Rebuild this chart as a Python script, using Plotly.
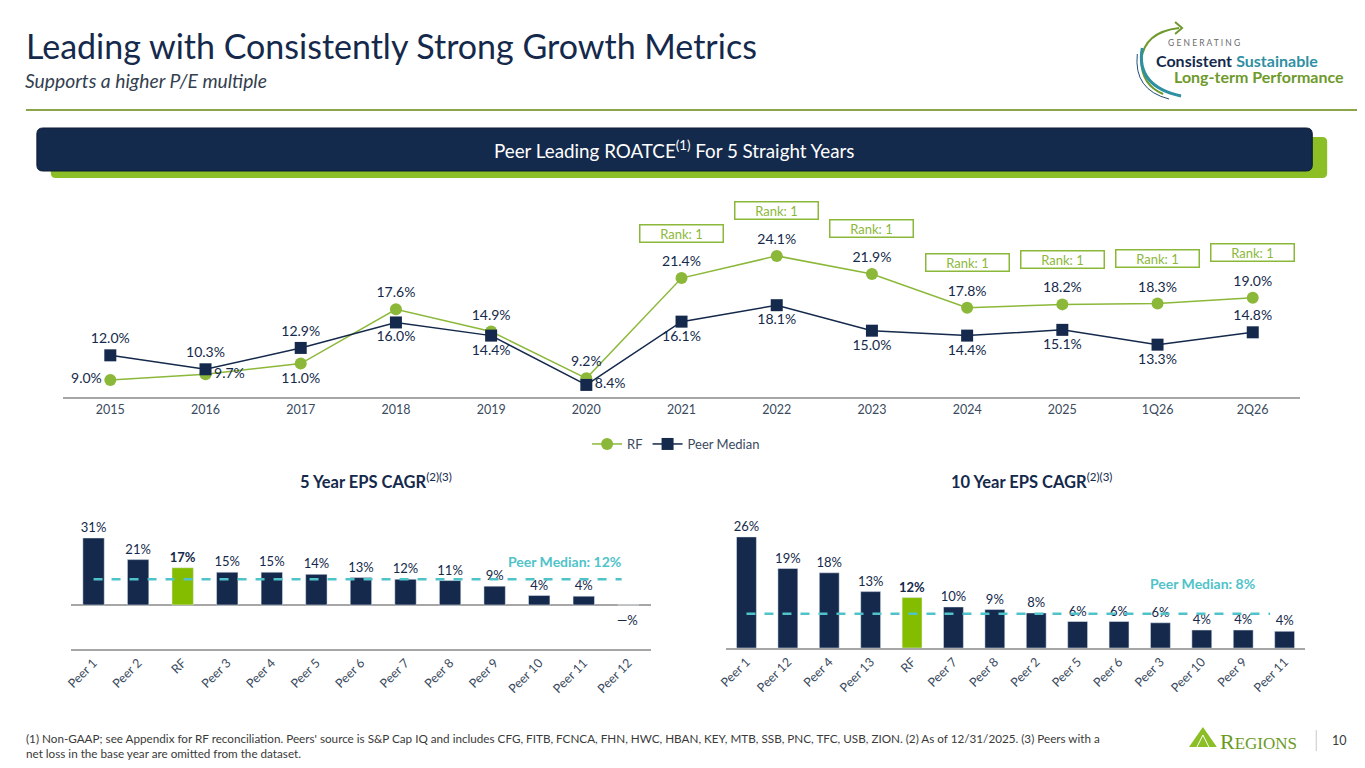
import plotly.graph_objects as go

# ---- data ----
periods = ["2015", "2016", "2017", "2018", "2019", "2020", "2021", "2022",
           "2023", "2024", "2025", "1Q26", "2Q26"]
rf_roatce = [9.0, 9.7, 11.0, 17.6, 14.9, 9.2, 21.4, 24.1, 21.9, 17.8, 18.2, 18.3, 19.0]
peer_roatce = [12.0, 10.3, 12.9, 16.0, 14.4, 8.4, 16.1, 18.1, 15.0, 14.4, 15.1, 13.3, 14.8]
rank_periods = ["2021", "2022", "2023", "2024", "2025", "1Q26", "2Q26"]
rank_labels = ["Rank: 1"] * 7

eps5_names = ["Peer 1", "Peer 2", "RF", "Peer 3", "Peer 4", "Peer 5", "Peer 6",
              "Peer 7", "Peer 8", "Peer 9", "Peer 10", "Peer 11", "Peer 12"]
eps5_vals = [31.3, 21.2, 17.4, 15.3, 15.3, 14.3, 12.8, 12.0, 11.4, 8.8, 4.4, 4.1, 0.0]
eps5_median = 12

eps10_names = ["Peer 1", "Peer 12", "Peer 4", "Peer 13", "RF", "Peer 7", "Peer 8",
               "Peer 2", "Peer 5", "Peer 6", "Peer 3", "Peer 10", "Peer 9", "Peer 11"]
eps10_vals = [26.0, 18.6, 17.6, 13.2, 11.8, 9.6, 9.0, 8.2, 6.2, 6.2, 5.9, 4.2, 4.2, 3.9]
eps10_median = 8

footnote_lines = [
    "(1) Non-GAAP; see Appendix for RF reconciliation. Peers' source is S&P Cap IQ and includes "
    "CFG, FITB, FCNCA, FHN, HWC, HBAN, KEY, MTB, SSB, PNC, TFC, USB, ZION. (2) As of 12/31/2025. "
    "(3) Peers with a",
    "net loss in the base year are omitted from the dataset.",
]

NAVY = "#14294b"
GREEN = "#8cb83a"
RFGREEN = "#84bd00"
TEAL = "#4fc3c9"
GRID = "#a6a6a6"
OFF = 8  # page margin in the browser
W, H = 1365 - 2 * OFF, 768 - 2 * OFF


def px(x):
    return (x - OFF) / W


def py(y):
    return 1 - (y - OFF) / H


def rrect(x0, y0, x1, y1, r):
    # rounded rectangle path in paper coords, given pixel box
    return (f"M {px(x0 + r)},{py(y0)} L {px(x1 - r)},{py(y0)} "
            f"Q {px(x1)},{py(y0)} {px(x1)},{py(y0 + r)} L {px(x1)},{py(y1 - r)} "
            f"Q {px(x1)},{py(y1)} {px(x1 - r)},{py(y1)} L {px(x0 + r)},{py(y1)} "
            f"Q {px(x0)},{py(y1)} {px(x0)},{py(y1 - r)} L {px(x0)},{py(y0 + r)} "
            f"Q {px(x0)},{py(y0)} {px(x0 + r)},{py(y0)} Z")


fig = go.Figure()

# line chart
rf_pos = ["middle left", "middle right", "bottom center"] + ["top center"] * 10
peer_pos = ["top center", "top center", "top center", "bottom center", "bottom center",
            "middle right"] + ["bottom center"] * 6 + ["top center"]
fig.add_trace(go.Scatter(
    x=periods, y=rf_roatce, name="RF", mode="lines+markers+text",
    line=dict(color=GREEN, width=1.5), marker=dict(symbol="circle", size=12, color=GREEN),
    text=[f"{v:.1f}%" for v in rf_roatce], textposition=rf_pos,
    textfont=dict(size=14, color=NAVY), cliponaxis=False, xaxis="x", yaxis="y"))
fig.add_trace(go.Scatter(
    x=periods, y=peer_roatce, name="Peer Median", mode="lines+markers+text",
    line=dict(color=NAVY, width=1.5), marker=dict(symbol="square", size=12, color=NAVY),
    text=[f"{v:.1f}%" for v in peer_roatce], textposition=peer_pos,
    textfont=dict(size=14, color=NAVY), cliponaxis=False, xaxis="x", yaxis="y"))

# bar charts
eps5_text = []
for n, v in zip(eps5_names, eps5_vals):
    if v == 0:
        eps5_text.append("")
    elif n == "RF":
        eps5_text.append(f"<b>{v:.0f}%</b>")
    else:
        eps5_text.append(f"{v:.0f}%")
fig.add_trace(go.Bar(
    x=eps5_names, y=eps5_vals, showlegend=False,
    marker=dict(color=[RFGREEN if n == "RF" else NAVY for n in eps5_names]),
    text=eps5_text, textposition="outside", constraintext="none",
    textfont=dict(size=13, color=NAVY),
    cliponaxis=False, width=0.48, xaxis="x2", yaxis="y2"))

eps10_text = [f"<b>{v:.0f}%</b>" if n == "RF" else f"{v:.0f}%"
              for n, v in zip(eps10_names, eps10_vals)]
fig.add_trace(go.Bar(
    x=eps10_names, y=eps10_vals, showlegend=False,
    marker=dict(color=[RFGREEN if n == "RF" else NAVY for n in eps10_names]),
    text=eps10_text, textposition="outside", constraintext="none",
    textfont=dict(size=13, color=NAVY),
    cliponaxis=False, width=0.48, xaxis="x3", yaxis="y3"))

tickf = dict(family="Lato, sans-serif", size=12.5, color="#3a4a5e")
fig.update_layout(
    width=W, height=H, margin=dict(l=0, r=0, t=0, b=0),
    paper_bgcolor="white", plot_bgcolor="white",
    font=dict(family="Lato, sans-serif", color=NAVY),
    showlegend=True,
    legend=dict(orientation="h", x=px(672), xanchor="center", y=py(444), yanchor="middle",
                font=dict(size=13, color="#3a4a5e")),
    xaxis=dict(type="category", domain=[px(55), px(1300)], anchor="y", showline=True,
               range=[-0.5, len(periods) - 0.5],
               linecolor=GRID, linewidth=1.5, ticks="", tickfont=tickf, showgrid=False),
    yaxis=dict(domain=[py(397), py(200)], range=[6.93, 30.9], visible=False),
    xaxis2=dict(type="category", domain=[px(63.6), px(646.4)], anchor="y2", showline=True,
                range=[-0.5, len(eps5_names) - 0.5],
                linecolor=GRID, linewidth=1.5, ticks="", tickangle=-45, tickfont=tickf,
                showgrid=False),
    yaxis2=dict(domain=[py(649), py(510)], range=[-20.6, 44.4], showgrid=False,
                showticklabels=False, zeroline=True, zerolinecolor=GRID, zerolinewidth=1.5),
    xaxis3=dict(type="category", domain=[px(722), px(1305)], anchor="y3", showline=True,
                range=[-0.5, len(eps10_names) - 0.5],
                linecolor=GRID, linewidth=1.5, ticks="", tickangle=-45, tickfont=tickf,
                showgrid=False),
    yaxis3=dict(domain=[py(648), py(510)], range=[0, 32.3], showgrid=False,
                showticklabels=False, zeroline=False),
)

shapes = [
    # rule under title
    dict(type="line", xref="paper", yref="paper", x0=px(18), x1=px(1362), y0=py(110), y1=py(110),
         line=dict(color="#8aa54b", width=2)),
    # banner
    dict(type="path", xref="paper", yref="paper", path=rrect(43, 137, 1327, 178, 5),
         fillcolor="#8cbf26", line=dict(width=0)),
    dict(type="path", xref="paper", yref="paper", path=rrect(29, 128, 1312, 171, 6),
         fillcolor="#142a4c", line=dict(color="#0c1b33", width=1)),
    # median lines
    dict(type="line", xref="x2", yref="y2", x0=0, x1=11.85, y0=eps5_median, y1=eps5_median,
         line=dict(color=TEAL, width=2.5, dash="dash")),
    dict(type="line", xref="x3", yref="y3", x0=0, x1=12.65, y0=eps10_median, y1=eps10_median,
         line=dict(color=TEAL, width=2.5, dash="dash")),
    # top-right logo arcs
    dict(type="path", xref="paper", yref="paper",
         path=f"M {px(1178)},{py(28)} Q {px(1143)},{py(32)} {px(1140)},{py(60)} "
              f"Q {px(1140)},{py(85)} {px(1162)},{py(94)}",
         line=dict(color="#6e9a2c", width=2)),
    dict(type="path", xref="paper", yref="paper",
         path=f"M {px(1174)},{py(22)} L {px(1181)},{py(28)} L {px(1174)},{py(34)}",
         line=dict(color="#6e9a2c", width=2)),
    dict(type="path", xref="paper", yref="paper",
         path=f"M {px(1141)},{py(48)} Q {px(1134)},{py(86)} {px(1180)},{py(96)}",
         line=dict(color="#2f8fa3", width=3)),
    dict(type="path", xref="paper", yref="paper",
         path=f"M {px(1136)},{py(54)} Q {px(1132)},{py(90)} {px(1168)},{py(99)}",
         line=dict(color="#1f4f77", width=1)),
    # Regions logo mark
    dict(type="path", xref="paper", yref="paper",
         path=f"M {px(1188)},{py(747)} L {px(1202)},{py(727)} L {px(1216)},{py(747)} Z",
         fillcolor="#8cbf26", line=dict(width=0)),
    dict(type="path", xref="paper", yref="paper",
         path=f"M {px(1196)},{py(747)} L {px(1202)},{py(735)} L {px(1208)},{py(747)}",
         line=dict(color="white", width=1)),
    dict(type="line", xref="paper", yref="paper", x0=px(1316), x1=px(1316), y0=py(730), y1=py(751),
         line=dict(color="#c8c8c8", width=1)),
]

annotations = [
    dict(text="Leading with Consistently Strong Growth Metrics", x=px(16), y=py(46),
         xanchor="left", yanchor="middle", font=dict(size=34, color=NAVY, family="Lato")),
    dict(text="<i>Supports a higher P/E multiple</i>", x=px(15), y=py(81),
         xanchor="left", yanchor="middle", font=dict(size=19.3, color="#333f4f", family="Lato")),
    dict(text="Peer Leading ROATCE<sup>(1)</sup> For 5 Straight Years", x=px(670), y=py(149),
         xanchor="center", yanchor="middle", font=dict(size=18.8, color="white")),
    dict(text="G E N E R A T I N G", x=px(1165), y=py(43), xanchor="left", yanchor="middle",
         font=dict(size=8.5, color="#6b6b6b")),
    dict(text="<b>Consistent</b> <b><span style='color:#2f8fa3'>Sustainable</span></b>",
         x=px(1153), y=py(60), xanchor="left", yanchor="middle", font=dict(size=16, color=NAVY)),
    dict(text="<b>Long-term Performance</b>", x=px(1171), y=py(76), xanchor="left",
         yanchor="middle", font=dict(size=16, color="#6e9a2c")),
    dict(text="<b>5 Year EPS CAGR</b><sup>(2)(3)</sup>", x=px(370), y=py(481),
         xanchor="center", yanchor="middle", font=dict(size=16.5, color=NAVY)),
    dict(text="<b>10 Year EPS CAGR</b><sup>(2)(3)</sup>", x=px(1030), y=py(481),
         xanchor="center", yanchor="middle", font=dict(size=16.5, color=NAVY)),
    dict(text=f"<b>Peer Median: {eps5_median}%</b>", x=px(560), y=py(561),
         xanchor="center", yanchor="middle", font=dict(size=14, color=TEAL)),
    dict(text=f"<b>Peer Median: {eps10_median}%</b>", x=px(1202), y=py(583),
         xanchor="center", yanchor="middle", font=dict(size=14, color=TEAL)),
    dict(text="R<span style='font-size:17px'>EGIONS</span>", x=px(1217), y=py(741),
         xanchor="left", yanchor="middle",
         font=dict(size=22, color="#6b9a1e", family="Liberation Serif")),
    dict(text="10", x=px(1339), y=py(740), xanchor="center", yanchor="middle",
         font=dict(size=12.5, color="#3a3a3a")),
    dict(text="<br>".join(footnote_lines), x=px(17), y=py(745.5), xanchor="left",
         yanchor="middle", align="left", borderpad=0,
         font=dict(size=11.7, color="#3a3a3a")),
]
for a in annotations:
    a.update(xref="paper", yref="paper", showarrow=False)

# rank boxes above RF points (category index used as x)
for p, lab in zip(rank_periods, rank_labels):
    i = periods.index(p)
    annotations.append(dict(
        text=lab, x=i, y=rf_roatce[i], xref="x", yref="y", showarrow=False,
        yshift=45, bordercolor=GREEN, borderwidth=1.5, borderpad=1, width=80, height=14,
        font=dict(size=13, color=GREEN)))

# "—%" label for the zero-value bar
zero_i = eps5_vals.index(0.0)
annotations.append(dict(text="—%", x=zero_i, y=0, xref="x2", yref="y2", showarrow=False,
                        xshift=-1, yshift=-15, font=dict(size=13, color=NAVY)))

fig.update_layout(shapes=shapes, annotations=annotations)

fig.write_html("out.html")
